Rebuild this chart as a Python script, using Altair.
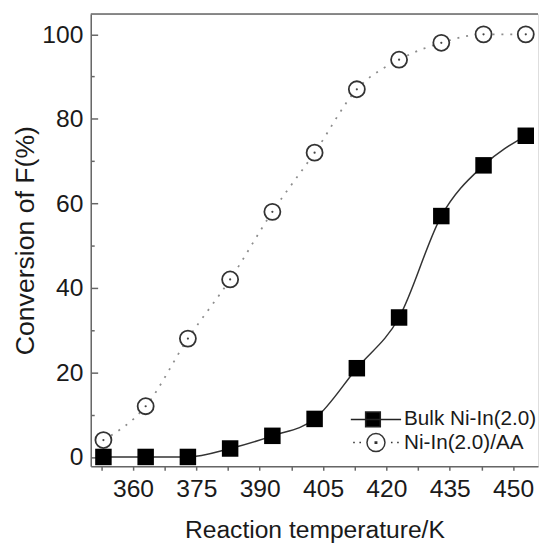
import altair as alt
import pandas as pd

# ---- data ----
temps = [353, 363, 373, 383, 393, 403, 413, 423, 433, 443, 453]
bulk_vals = [0, 0, 0, 2, 5, 9, 21, 33, 57, 69, 76]
aa_vals = [4, 12, 28, 42, 58, 72, 87, 94, 98, 100, 100]
series_names = ["Bulk Ni-In(2.0)", "Ni-In(2.0)/AA"]
x_tick_values = [352.5, 360, 367.5, 375, 382.5, 390, 397.5, 405, 412.5, 420, 427.5, 435, 442.5, 450]
y_label_values = [0, 20, 40, 60, 80, 100]
y_tick_values = [0, 10, 20, 30, 40, 50, 60, 70, 80, 90, 100]

rows = []
for t, b, a in zip(temps, bulk_vals, aa_vals):
    rows.append({"T": t, "conv": b, "series": series_names[0]})
    rows.append({"T": t, "conv": a, "series": series_names[1]})
df = pd.DataFrame(rows)

W, H = 454, 459
FONT = "Liberation Sans"
TXT = "#1a1a1a"
AX = "#666666"

xscale = alt.Scale(domain=[350, 455.9], nice=False, zero=False)
yscale = alt.Scale(domain=[-2.2, 104.8], nice=False, zero=False)

x_enc = alt.X(
    "T:Q", scale=xscale,
    axis=alt.Axis(
        values=x_tick_values, format="d",
        labelExpr="datum.value % 15 === 0 ? datum.label : ''",
        title="Reaction temperature/K", grid=False,
        domainColor=AX, domainWidth=1.5, tickColor=AX, tickWidth=1.5, tickSize=4,
        labelPadding=7, labelFontSize=25, labelColor=TXT, labelFont=FONT,
        titleFontSize=25, titleFontWeight="normal", titleColor=TXT, titleFont=FONT,
        titlePadding=16,
    ),
)
y_left = alt.Y(
    "conv:Q", scale=yscale,
    axis=alt.Axis(
        orient="left", values=y_label_values, ticks=False, tickSize=0, grid=False,
        domainColor=AX, domainWidth=1.5, labelPadding=8, labelFontSize=25,
        labelColor=TXT, labelFont=FONT, title="Conversion of F(%)",
        titleFontSize=27, titleFontWeight="normal", titleColor=TXT, titleFont=FONT,
        titlePadding=2,
    ),
)
y_inner_ticks = alt.Y(
    "conv:Q", scale=yscale,
    axis=alt.Axis(
        orient="right", offset=-W, values=y_tick_values, labels=False, domain=False,
        grid=False, title=None, tickColor=AX, tickWidth=1.5,
        tickSize={"condition": {"test": "datum.value % 20 === 0", "value": 7}, "value": 3.5},
    ),
)
y_plain = alt.Y("conv:Q", scale=yscale, axis=None)

base = alt.Chart(df)
bulk = base.transform_filter(alt.datum.series == series_names[0])
aa = base.transform_filter(alt.datum.series == series_names[1])

top_border = alt.Chart(alt.Data(values=[{"k": 1}])).mark_rule(
    color=AX, strokeWidth=1.5
).encode(x=alt.value(0), x2=alt.value(W), y=alt.value(0))

bulk_line = bulk.mark_line(interpolate="monotone", color="#333333", strokeWidth=1.5).encode(
    x=x_enc, y=y_left)
aa_line = aa.mark_line(interpolate="monotone", color="#8c8c8c", strokeWidth=1.8,
                       strokeDash=[2, 7]).encode(x=x_enc, y=y_inner_ticks)
bulk_pts = bulk.mark_point(shape="square", filled=True, size=280, color="#000000",
                           opacity=1).encode(x=x_enc, y=y_plain)
aa_pts = aa.mark_point(shape="circle", filled=True, fill="white", stroke="#333333",
                       strokeWidth=1.8, size=265, opacity=1).encode(x=x_enc, y=y_plain)
aa_dots = aa.mark_circle(size=5, color="#444444", opacity=1).encode(x=x_enc, y=y_plain)

# legend symbols: path units are 10.5 px (symbolSize 441)
path_sq = "M-2.43,0H2.43M-1.0,-0.71H0.42V0.71H-1.0Z"
path_ci = ("M0.87,0A0.87,0.87,0,1,1,-0.87,0A0.87,0.87,0,1,1,0.87,0Z"
           "M-0.07,-0.07H0.07V0.07H-0.07Z"
           "M-2.2,0H-2.05M-1.6,0H-1.45M1.45,0H1.6M2.05,0H2.2")
leg = alt.Legend(
    title=None, orient="none", legendX=278, legendY=400, padding=0,
    symbolSize=441, symbolOpacity=1, symbolStrokeColor="#222222", symbolStrokeWidth=1.5,
    labelFontSize=21, labelFont=FONT, labelColor=TXT, labelOffset=17, rowPadding=0.5,
)
legend_layer = base.mark_point(filled=True, opacity=0, size=441, stroke="#222222",
                               strokeWidth=1.5).encode(
    x=x_enc, y=y_plain,
    shape=alt.Shape("series:N", scale=alt.Scale(domain=series_names, range=[path_sq, path_ci]),
                    legend=leg),
    fill=alt.Fill("series:N", scale=alt.Scale(domain=series_names, range=["#000000", "#ffffff"]),
                  legend=leg),
    stroke=alt.Stroke("series:N", scale=alt.Scale(domain=series_names, range=["#222222", "#333333"]),
                      legend=leg),
)

chart = alt.layer(
    top_border, bulk_line, aa_line, bulk_pts, aa_pts, aa_dots, legend_layer
).resolve_axis(y="independent").properties(
    width=W, height=H,
    autosize=alt.AutoSizeParams(type="none"),
    padding={"left": 84, "top": 2, "right": 2, "bottom": 90},
).configure_view(stroke="transparent").configure(font=FONT)

chart.save("out.html", embed_options={"renderer": "svg", "actions": False})
